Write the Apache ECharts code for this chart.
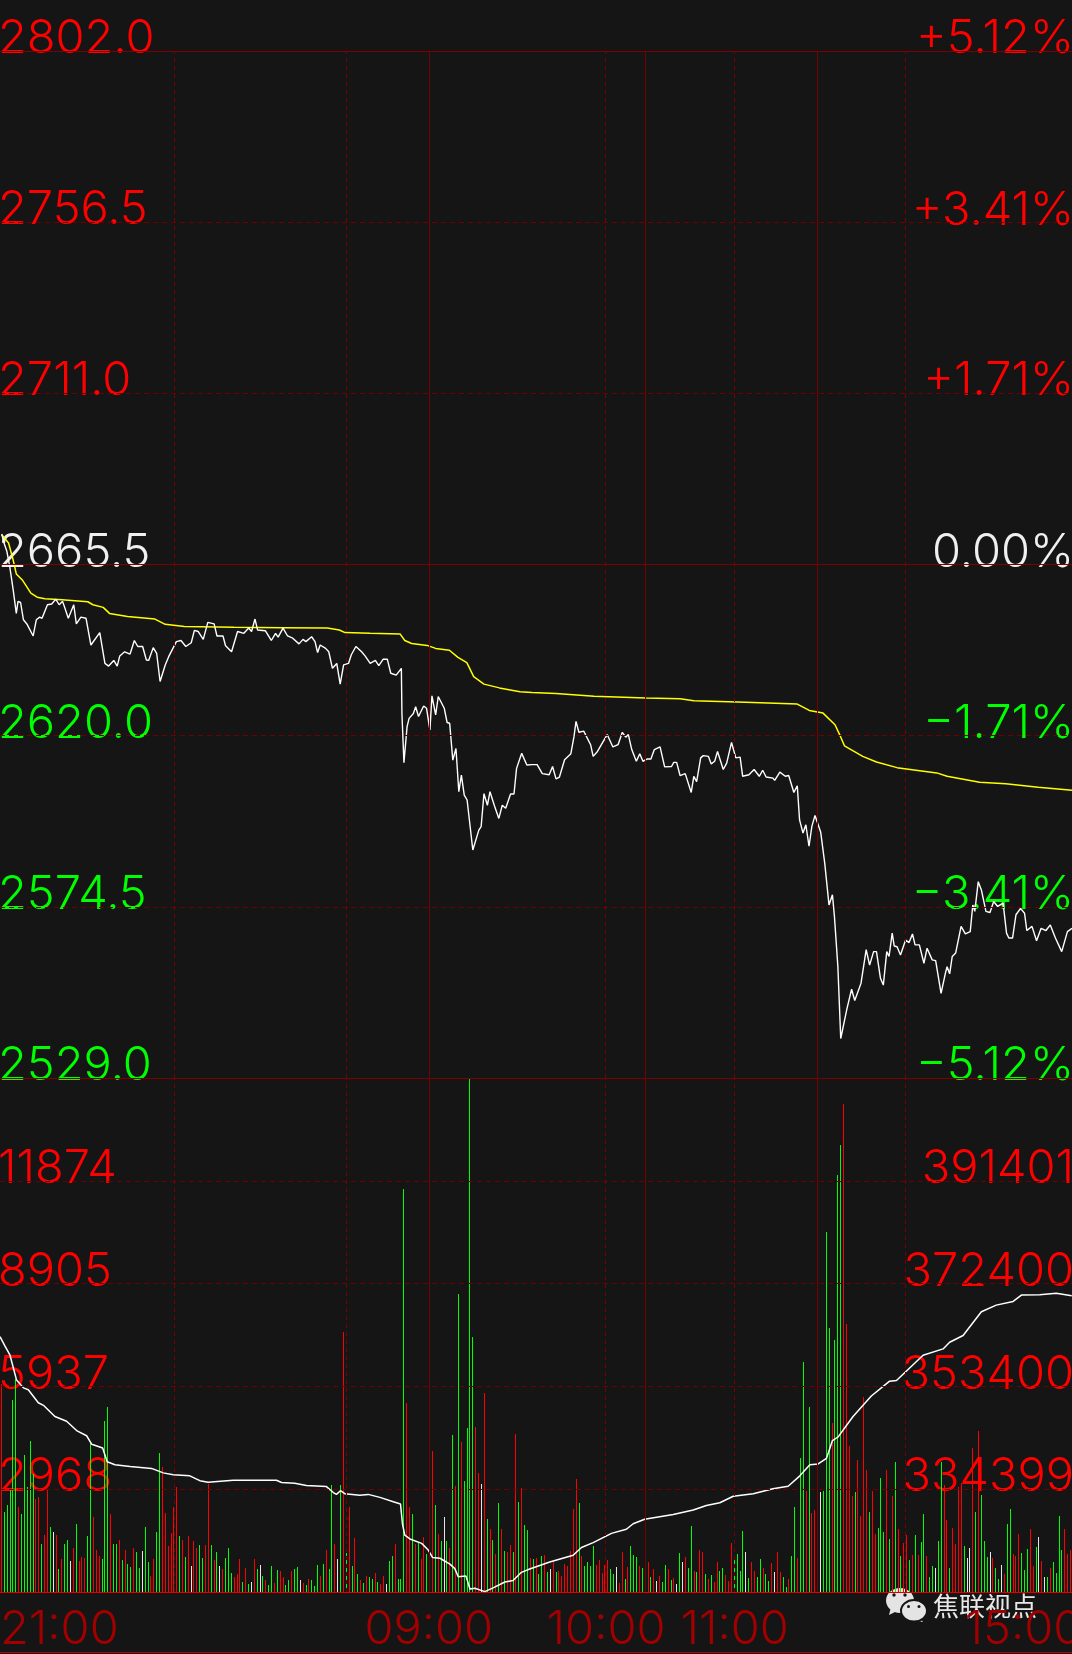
<!DOCTYPE html>
<html><head><meta charset="utf-8">
<style>html,body{margin:0;padding:0;background:#151515}#c{width:1072px;height:1654px}</style>
<script src="https://cdn.jsdelivr.net/npm/echarts@6/dist/echarts.min.js"></script>
</head><body><div id="c"></div>
<script>
const priceTicks=[2529,2574.5,2620,2665.5,2711,2756.5,2802];
const pctTicks=[-5.12,-3.41,-1.71,0,1.71,3.41,5.12];
const volTicks=[2968,5937,8905,11874];
const cumTicks=[334399,353400,372400,391401];
const timeMinutes=[0,150,212,257,358];
const timeLabels=['21:00','09:00','10:00','11:00','15:00'];
const solidMinutes=[150.2,225.6,286];
const dashedMinutes=[60.9,121.2,211.6,256.9,316.7];
const solidPrices=[2529,2665.5,2802];
const dashedPrices=[2574.5,2620,2711,2756.5];

const pricePoints=[[0.6,2673.6],[1.4,2671.2],[2.4,2669],[3.4,2665],[4.6,2658.8],[5.7,2652.5],[6.3,2655.7],[7.2,2655.4],[8.2,2650.8],[9.4,2649.7],[11.6,2646.5],[12.7,2650.8],[13.9,2651.5],[14.7,2651.2],[16.6,2654.8],[18.1,2655],[19.5,2656.3],[20.7,2654.8],[21.9,2655.7],[23.9,2651.2],[25.8,2654.8],[26.7,2649.7],[28.3,2651.5],[30.1,2651.2],[31.8,2644.1],[34.9,2647.4],[36.7,2639.2],[38,2638.5],[39.8,2640],[41,2638.5],[41.9,2641.2],[43.6,2642.3],[45.5,2641.7],[47,2645.3],[48.2,2643.7],[49.9,2643.7],[51.2,2640.1],[52,2640],[53.6,2643.4],[54.8,2641.9],[56,2634.4],[57.8,2638.8],[59,2641],[61.7,2645],[63.3,2645.3],[65,2643.7],[66.9,2644.7],[68,2648],[69.3,2647.7],[71.1,2645.6],[72.7,2650.1],[74.9,2649.7],[75.9,2646.5],[78,2646.5],[78.9,2643.9],[81,2642.3],[83.1,2647.7],[85.3,2647.2],[87,2648.6],[88,2647.7],[89.2,2651],[90.1,2648.1],[92.8,2647.9],[94.9,2645.3],[96.4,2647.2],[97.3,2646.2],[99,2648.6],[100.6,2646.5],[102.4,2645.9],[104.6,2644.4],[106,2645.6],[107,2645],[109,2646.3],[110.2,2645],[111.1,2642.1],[112,2644.1],[113.9,2643.2],[115,2642.3],[116.3,2637.9],[117.8,2639.2],[119,2633.7],[120.2,2638.8],[121.9,2639.2],[122.9,2641.5],[124.5,2643.7],[126.5,2642.3],[127.7,2641.2],[129.5,2639.2],[131.3,2640],[132.5,2638.6],[134,2640.3],[135.5,2640.3],[136.7,2636.6],[138.6,2636.1],[140.4,2637.9],[140.6,2625.9],[141.3,2612.8],[142.4,2622.4],[143.1,2624.6],[144.6,2625.9],[145.4,2627.7],[146.4,2625.1],[148.2,2627.9],[149.2,2627.3],[150.4,2621.5],[151.1,2630.6],[152.4,2625.5],[153.3,2630.4],[155.4,2627.3],[156.4,2623.5],[157.3,2623.3],[158.4,2613.5],[159.5,2616.6],[160.5,2605.1],[161.4,2609.5],[162.4,2604.2],[163.4,2602.9],[165.4,2589.6],[167.5,2594.9],[168.3,2595.8],[169.3,2604.6],[170.5,2601.5],[171.4,2605.1],[172.9,2601.5],[174.5,2598],[175.7,2601.5],[176.9,2600.7],[178.6,2604.5],[179.8,2604.5],[180.7,2611.3],[182.5,2615.3],[184.3,2612.2],[186.1,2612.3],[187.9,2612.3],[189.7,2609.9],[192.1,2609.6],[193.3,2611.8],[194.5,2608.5],[195.7,2609],[197.5,2613.6],[199.7,2615.2],[200.8,2619.8],[201.5,2623.8],[202.5,2620.9],[204.2,2621.2],[206.6,2617.6],[207.5,2614.5],[209,2615.8],[212.4,2620.3],[214.4,2617],[216.2,2617.6],[217.7,2620.9],[218.9,2619.6],[219.8,2620.3],[221,2616.3],[222.6,2613.2],[223.8,2615.2],[224.9,2613.2],[226.5,2613.8],[227.7,2613.8],[228.9,2616.3],[230.9,2617],[232.5,2611.7],[234.9,2611.8],[235.7,2612.9],[236.7,2612.9],[237.9,2609.4],[239.7,2609.9],[241.8,2604.9],[242.7,2609.2],[243.7,2607.8],[245.1,2614.1],[246,2614.7],[247.8,2614.5],[248.8,2612.5],[250,2613.2],[251,2615.8],[253,2611],[254.2,2612.7],[255.9,2618.2],[257.4,2614.1],[258.9,2614.3],[259.8,2609.2],[262,2609.6],[263.8,2611],[265.6,2609.2],[266.8,2610.8],[268,2609],[270.4,2608.7],[271,2608.1],[272.8,2610.3],[274.7,2609.2],[275.9,2609.4],[277.7,2604.9],[278.9,2606.7],[279.7,2597.6],[280.9,2594.1],[281.9,2596.3],[283,2590.6],[284,2595.9],[285.1,2598.8],[287.1,2594.3],[288.5,2586.1],[290,2575],[291.2,2577.7],[291.9,2571.9],[293.1,2558.6],[294.1,2539.5],[296.3,2547.5],[297.9,2552.6],[299,2549.6],[301.2,2554.2],[303,2563.1],[304.2,2559],[305.6,2562.6],[306.6,2562.6],[308,2555.5],[309,2553.7],[310.2,2562.6],[311,2561.3],[312.1,2567.5],[312.8,2564.1],[313.8,2563.9],[315,2561.7],[316.8,2565.7],[318,2565],[319.2,2567.3],[320.1,2564.4],[321.6,2564.4],[323.2,2559.5],[324.3,2563.5],[326.1,2560.4],[327.3,2560.2],[329.2,2551.5],[330.7,2556.8],[331.3,2558.6],[332.2,2556.7],[333.1,2561.3],[334.3,2562.2],[336.2,2569.3],[337.7,2567.3],[339.4,2567.9],[340.3,2575],[341,2573.3],[342.2,2581.2],[343.3,2579],[344.9,2573.3],[346.3,2573],[347.6,2575.9],[349,2574.6],[350.9,2575.5],[352.1,2567.5],[352.9,2566.2],[354.2,2566.2],[355.4,2572.4],[357,2574.1],[358.4,2572.8],[359.2,2568.2],[361,2569.3],[362.6,2565.5],[364.2,2568.8],[365.9,2568.2],[367.4,2569.7],[369.2,2566.2],[371.4,2562.6],[373.4,2567.9],[375,2568.8]];

const averagePoints=[[0.6,2673.4],[3,2671.2],[4.6,2666.7],[5.7,2663],[7.8,2661.4],[10.8,2657.9],[13,2656.8],[15.7,2656.4],[21.7,2656.1],[30.7,2655.6],[32.5,2654.8],[36.1,2654.1],[38.3,2652.5],[44.6,2651.7],[54.2,2651],[57.8,2649.6],[64.5,2649],[81.9,2648.8],[98.8,2648.7],[114.5,2648.6],[118.7,2648.1],[120.7,2647.4],[129.5,2647.2],[140,2647],[141.6,2645.3],[144,2644.5],[149.4,2644],[152.4,2643.2],[157.2,2642.7],[160.2,2640.8],[163.3,2639.4],[165.7,2635.7],[169.3,2633.7],[174.7,2632.7],[181.9,2631.7],[186.1,2631.5],[194.5,2631.2],[207.8,2630.5],[225.9,2630],[237.9,2629.8],[242.7,2629.3],[260.8,2628.9],[278.9,2628.4],[283.1,2626.7],[287.9,2626],[292.1,2622.9],[294,2619.8],[295.4,2617.3],[301.8,2614.5],[306.6,2613],[313.8,2611.5],[327.7,2610.1],[331.3,2609.2],[342.7,2607.6],[351.8,2607.2],[363.2,2606.3],[375,2605.5]];

const holdingPoints=[[0,362594],[1.7,360879],[3.5,359164],[4.7,356763],[5.8,354567],[8.2,353127],[9.9,352784],[13.4,350383],[15.2,349903],[19.2,347845],[23.3,346953],[26.8,345238],[30.3,344277],[32.1,342700],[35.9,342014],[37.5,339476],[40.2,338927],[45.5,338584],[53,338241],[57.1,337417],[60.6,337074],[66.4,336869],[69.9,335977],[72.8,335702],[81.6,336045],[90.9,336045],[96.7,336045],[98.5,335634],[103.1,335497],[107.2,335085],[114.2,334879],[116.6,333782],[117.7,333439],[119.1,334125],[120.6,333576],[125.9,333301],[128.8,333439],[132.9,332890],[137.6,332067],[140.1,331655],[140.8,327951],[141.6,325892],[143.4,325206],[147.5,324383],[149.8,323149],[151.3,321777],[153.9,321639],[157.4,320542],[159.1,319719],[160.3,318209],[163,318346],[164.4,315945],[166.1,316082],[169.6,315465],[172.5,316151],[176.6,317249],[179.5,317524],[182.4,319033],[185.3,319650],[192.3,320954],[200.5,322188],[203.4,323629],[207.5,324521],[213.9,326236],[219.1,326990],[221.5,328019],[225.5,328842],[235.5,329734],[242.5,330557],[247.1,331381],[251.8,331900],[256.5,333096],[263.5,333576],[270.4,334468],[275.7,334948],[279.8,336869],[283.3,338927],[286.2,339064],[289.1,340093],[291.2,343386],[293.2,344072],[298.4,347845],[304.8,351618],[311.2,354363],[313.6,354499],[322.9,359164],[329.9,360330],[332.2,361565],[336.9,362800],[343.3,367190],[348.5,368425],[354.4,369111],[357.3,370277],[363.7,370345],[369.5,370620],[374.9,370140]];

const volumes=[
6010,2300,2515,2980,5550,6150,2460,2260,3960,3030,
4365,3410,2690,2750,1390,1655,2980,1880,1740,1655,
665,955,1390,1505,900,1280,1965,900,1010,990,
1625,4290,2170,1215,1040,955,4945,5340,2260,1390,
1390,1505,925,1205,815,730,1280,1160,700,1195,
1880,880,450,955,1740,4020,3610,2270,1330,1690,
2460,3040,1625,1505,1010,1625,750,1470,1280,1365,
990,1365,3120,1365,925,1160,750,665,990,1280,
550,420,525,955,290,700,235,290,955,665,
785,460,355,205,750,270,645,615,420,205,
355,615,665,730,355,270,205,375,355,180,
785,460,815,1215,665,3095,1390,955,3095,7515,
1130,2460,750,1560,525,
345,270,460,440,375,550,290,235,460,235,
900,1040,1390,375,375,11630,5460,2440,2260,1390,
1410,955,1590,1095,3760,4075,2515,1675,1470,2170,
1470,1280,4535,3065,8610,4330,3200,4740,14815,7365,
4760,3440,3120,5760,2105,1830,1505,1095,2570,1805,
1195,1160,1365,1160,4570,2600,3010,1935,1795,990,
955,990,525,1040,1075,580,665,860,580,615,
460,815,750,1195,2400,3270,2570,1040,750,870,
750,1330,785,925,550,785,925,665,525,730,
270,1160,375,730,1330,1075,1010,750,700,750,
870,440,665,320,460,290,785,665,355,410,
235,1130,870,1010,700,1915,600,580,1215,1160,
525,375,495,290,870,615,
700,495,320,1420,1010,1095,615,1765,1160,410,
870,615,440,955,700,525,320,840,580,1160,
580,440,150,375,1040,2460,990,3870,6630,2925,
5340,2290,2375,2270,2900,2925,10395,7620,4890,7280,
12040,12910,14090,7740,4215,2760,2890,3815,2205,5635,
3515,2310,2925,1675,1850,3300,1740,3515,1535,2775,
3760,1830,1040,1420,1655,925,1075,1655,1075,1450,
2260,1040,440,750,700,1470,3760,3095,2085,700,
1850,1390,3030,3150,1330,990,1280,4160,2310,4655,
2805,1470,1010,1160,990,700,375,785,525,1965,
2400,1095,1040,1675,1130,645,1245,1830,750,1300,
1590,900,440,440,700,870,550,2205,1215,1830,
1095,1215];
const directions=
'rgggggrggg'+'ggrrgrrgwr'+'grggwrgrrr'+'ggrrrgggrg'+'grgrggrggw'+'ggrrggrrrr'+'rrgrgrwrrg'+'grrgrgwrgg'+'grrrgrgwrg'+'wgrggrgrrg'+'grggwrgrgg'+'grgrggrwgr'+'grgrg'+
'rgrggrgrrw'+'ggrgggrrgr'+'grrggrgrgw'+'grgrgrgggg'+'rrwrgrgrgr'+'grrgrgrggr'+'grggrgwrgr'+'rrrrrrgrgg'+'ggrrrrrggw'+'rrgrgggrgw'+'rgrwrggrgr'+'wgwrggrgrr'+'grgrrg'+
'grrrggggwg'+'rrggrggrwr'+'rggrggrggr'+'grrgwgggrg'+'ggrrrrgrrr'+'rgrrgggrgr'+'grgrrgrgrg'+'grggwggrrg'+'rrrrgwwrgr'+'gggwrggwrg'+'grrrgggrrg'+'wrwgrggggr'+'rr';

const BG='#151515',RED='#ff0000',GREEN='#00ff00',WHITE='#f0f0f0';
const barColor={r:'#ff0000',g:'#00ff00',w:'#e6e6e6'};
const FONT='Inter';
const FS=47;
const chart=echarts.init(document.getElementById('c'),null,{renderer:'canvas',width:1072,height:1654});
const lbl=(o)=>Object.assign({show:true,inside:true,margin:-2,fontFamily:FONT,fontWeight:300,fontSize:FS,lineHeight:24,verticalAlign:'bottom',hideOverlap:false,showMinLabel:true,showMaxLabel:true},o);
const mk=(list,key,type,color)=>list.map(v=>({[key]:v,lineStyle:{type:type,color:color,width:1}}));
const markGrid=(h,v)=>({silent:true,symbol:['none','none'],animation:false,label:{show:false},emphasis:{disabled:true},data:h.concat(v)});
const vertical=mk(solidMinutes,'xAxis','solid','#780000').concat(mk(dashedMinutes,'xAxis',[4,4],'#780000'));
const barData=volumes.map((v,i)=>[(i+0.5)*375/volumes.length,v,i]);
chart.setOption({
  backgroundColor:BG,animation:false,
  grid:[{left:0,right:0,top:51,height:1027,outerBoundsMode:'none',containLabel:false},{left:0,right:0,top:1078,height:514,outerBoundsMode:'none',containLabel:false}],
  xAxis:[
    {gridIndex:0,type:'value',min:0,max:375,show:false},
    {gridIndex:1,type:'value',min:0,max:375,position:'bottom',splitLine:{show:false},axisTick:{show:false,customValues:timeMinutes},
      axisLine:{show:true,onZero:false,lineStyle:{color:'#e00000',width:1}},
      axisLabel:{show:true,customValues:timeMinutes,margin:14,fontFamily:FONT,fontWeight:300,fontSize:FS,color:'#a00000',hideOverlap:false,showMinLabel:true,showMaxLabel:true,alignMinLabel:'left',
        formatter:v=>timeLabels[timeMinutes.indexOf(v)]}}
  ],
  yAxis:[
    {gridIndex:0,type:'value',min:2529,max:2802,position:'left',z:1,splitLine:{show:false},axisLine:{show:false},axisTick:{show:false,customValues:priceTicks},
      axisLabel:lbl({customValues:priceTicks,formatter:v=>v.toFixed(1),color:v=>v>2665.5?RED:v<2665.5?GREEN:WHITE})},
    {gridIndex:0,type:'value',min:-5.12,max:5.12,position:'right',z:1,splitLine:{show:false},axisLine:{show:false},axisTick:{show:false,customValues:pctTicks},
      axisLabel:lbl({customValues:pctTicks,formatter:v=>(v>0?'+':v<0?'\u2212':'')+Math.abs(v).toFixed(2)+'%',color:v=>v>0?RED:v<0?GREEN:WHITE})},
    {gridIndex:1,type:'value',min:0,max:14842,position:'left',z:1,splitLine:{show:false},axisLine:{show:false},axisTick:{show:false,customValues:volTicks},
      axisLabel:lbl({customValues:volTicks,color:RED,formatter:v=>String(v)})},
    {gridIndex:1,type:'value',min:315398,max:410402,position:'right',z:1,splitLine:{show:false},axisLine:{show:false},axisTick:{show:false,customValues:cumTicks},
      axisLabel:lbl({customValues:cumTicks,color:RED,formatter:v=>String(v)})}
  ],
  series:[
    {name:'grid-top',type:'line',xAxisIndex:0,yAxisIndex:0,z:0,data:[],markLine:markGrid(mk(solidPrices,'yAxis','solid','#800000').concat(mk(dashedPrices,'yAxis',[5,4],'#700000')),vertical)},
    {name:'grid-bottom',type:'line',xAxisIndex:1,yAxisIndex:2,z:0,data:[],markLine:markGrid(mk(volTicks,'yAxis',[5,4],'#700000'),vertical)},
    {name:'volume',type:'custom',xAxisIndex:1,yAxisIndex:2,z:2,data:barData,encode:{x:0,y:1},clip:true,
      renderItem:(params,api)=>{
        const top=api.coord([api.value(0),api.value(1)]);
        const base=api.coord([api.value(0),0]);
        return {type:'rect',shape:{x:Math.round(top[0]-0.5),y:Math.round(top[1]),width:1,height:Math.round(base[1]-top[1])},
          style:{fill:barColor[directions.charAt(api.value(2))]||RED}};
      }},
    {name:'holding',type:'line',xAxisIndex:1,yAxisIndex:3,z:3,showSymbol:false,symbol:'none',lineStyle:{color:'#ffffff',width:1.5},data:holdingPoints},
    {name:'average',type:'line',xAxisIndex:0,yAxisIndex:0,z:3,showSymbol:false,symbol:'none',lineStyle:{color:'#ffff00',width:1.5},data:averagePoints},
    {name:'price',type:'line',xAxisIndex:0,yAxisIndex:0,z:4,showSymbol:false,symbol:'none',lineStyle:{color:'#ffffff',width:1.4},data:pricePoints}
  ],
  graphic:[
    {type:'rect',silent:true,z:5,shape:{x:0,y:1652,width:1072,height:1},style:{fill:'#c00000'}},
    {type:'group',silent:true,z:6,children:[
      {type:'polygon',shape:{points:[[891,1607],[889,1615],[897,1611]]},style:{fill:'#e4e4e4'}},
      {type:'ellipse',shape:{cx:900,cy:1600.5,rx:14,ry:12.5},style:{fill:'#e4e4e4'}},
      {type:'circle',shape:{cx:894,cy:1595,r:1.7},style:{fill:'#151515'}},
      {type:'circle',shape:{cx:905,cy:1595,r:1.7},style:{fill:'#151515'}},
      {type:'polygon',shape:{points:[[920,1617],[923,1622],[914,1620]]},style:{fill:'#e4e4e4'}},
      {type:'ellipse',shape:{cx:914,cy:1610.8,rx:13,ry:10.8},style:{fill:'#e4e4e4',stroke:'#151515',lineWidth:2}},
      {type:'circle',shape:{cx:908.5,cy:1606.5,r:1.5},style:{fill:'#151515'}},
      {type:'circle',shape:{cx:919,cy:1606.5,r:1.5},style:{fill:'#151515'}},
      {type:'text',style:{x:933,y:1606,text:'焦联视点',font:'26px "Noto Sans CJK SC"',fill:'#e8e8e8',textVerticalAlign:'middle'}}
    ]}
  ]
});
</script></body></html>
